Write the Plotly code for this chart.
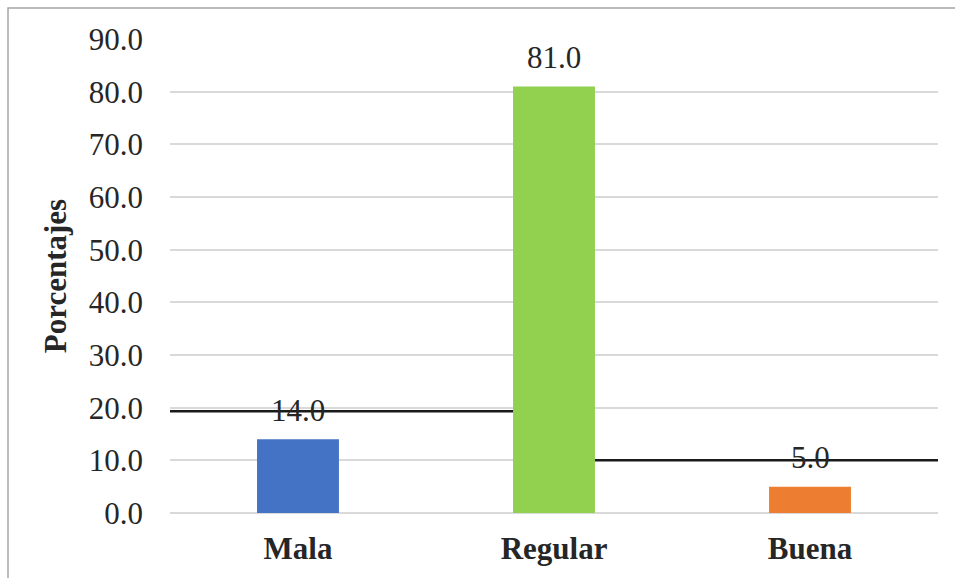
import plotly.graph_objects as go

categories = ["Mala", "Regular", "Buena"]
values = [14.0, 81.0, 5.0]
colors = ["#4472C4", "#92D050", "#ED7D31"]
y_ticks = [0, 10, 20, 30, 40, 50, 60, 70, 80, 90]
y_tick_labels = ["%.1f" % v for v in y_ticks]
y_title = "Porcentajes"

# stray horizontal rules visible in the source image: (x0, x1, y) in data units
bar_w = 0.32
stray_lines = [(-0.5, 1 - bar_w / 2, 19.3), (1 + bar_w / 2, 2.5, 10.0)]

FONT = "Liberation Serif, Times New Roman, serif"
TXT = "#262626"

W, H = 955, 578
ml, mr, mt, mb = 170, 17, 39, 65
pw, ph = W - ml - mr, H - mt - mb

fig = go.Figure()
fig.add_trace(go.Bar(
    x=categories, y=values, marker=dict(color=colors, line=dict(width=0)),
    width=bar_w, hoverinfo="skip",
))

for c, v in zip(categories, values):
    fig.add_annotation(x=c, y=v, text="%.1f" % v, showarrow=False,
                       yanchor="middle", yshift=29,
                       font=dict(family=FONT, size=31, color=TXT))

for x0, x1, y in stray_lines:
    fig.add_shape(type="line", xref="x", yref="y", x0=x0, x1=x1, y0=y, y1=y,
                  line=dict(color="#1a1a1a", width=2.5), layer="above")

# outer border of the chart area (extends past right/bottom edges)
fig.add_shape(type="rect", xref="paper", yref="paper",
              x0=(8 - ml) / pw, x1=(W + 20 - ml) / pw,
              y0=-(mb + 20) / ph, y1=1 + (mt - 8) / ph,
              line=dict(color="#A6A6A6", width=1.5), fillcolor="rgba(0,0,0,0)",
              layer="below")

fig.update_layout(
    width=W, height=H,
    margin=dict(l=ml, r=mr, t=mt, b=mb, pad=0),
    paper_bgcolor="white", plot_bgcolor="white",
    showlegend=False,
    font=dict(family=FONT, color=TXT),
    xaxis=dict(
        type="category", range=[-0.5, 2.5],
        showgrid=False, showline=False, zeroline=False,
        ticks="", ticklabelstandoff=14,
        tickfont=dict(family=FONT, size=31, color=TXT, weight="bold"),
    ),
    yaxis=dict(
        range=[0, 90], tickvals=y_ticks, ticktext=y_tick_labels,
        showgrid=True, gridcolor="#D9D9D9", gridwidth=1.5,
        zeroline=True, zerolinecolor="#D9D9D9", zerolinewidth=1.5,
        showline=False, ticks="", ticklabelstandoff=26,
        tickfont=dict(family=FONT, size=31, color=TXT),
        title=dict(text=y_title, standoff=12,
                   font=dict(family=FONT, size=31, color=TXT, weight="bold")),
    ),
)

fig.write_html("out.html")
